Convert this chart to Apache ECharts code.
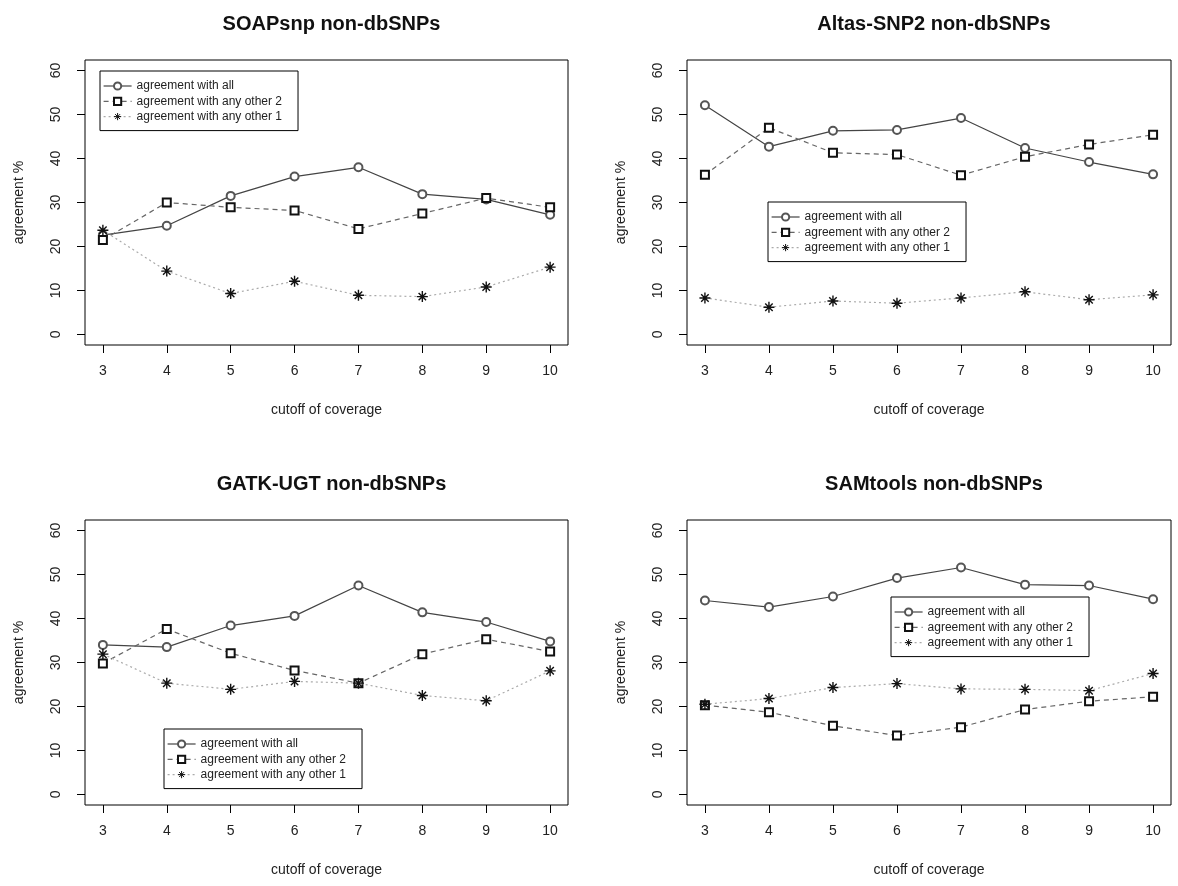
<!DOCTYPE html>
<html><head><meta charset="utf-8">
<script src="https://cdn.jsdelivr.net/npm/echarts@6/dist/echarts.min.js"></script>
<style>html,body{margin:0;padding:0;background:#fff}#c{width:1178px;height:886px}</style>
</head><body><div id="c"></div>
<script>
// ---- data ----
const coverage = [3, 4, 5, 6, 7, 8, 9, 10];
const xTicks = [3, 4, 5, 6, 7, 8, 9, 10];
const yTicks = [0, 10, 20, 30, 40, 50, 60];
const panelTitles = ['SOAPsnp non-dbSNPs', 'Altas-SNP2 non-dbSNPs', 'GATK-UGT non-dbSNPs', 'SAMtools non-dbSNPs'];
const seriesNames = ['agreement with all', 'agreement with any other 2', 'agreement with any other 1'];
const xAxisTitle = 'cutoff of coverage';
const yAxisTitle = 'agreement %';

const soapAll    = [22.6, 24.7, 31.5, 35.9, 38.0, 31.9, 30.7, 27.2];
const soapOther2 = [21.5, 30.0, 28.9, 28.2, 24.0, 27.5, 31.0, 28.9];
const soapOther1 = [23.7, 14.4, 9.3, 12.1, 8.9, 8.6, 10.8, 15.3];

const altasAll    = [52.1, 42.7, 46.3, 46.5, 49.2, 42.4, 39.2, 36.4];
const altasOther2 = [36.3, 47.0, 41.3, 40.9, 36.2, 40.4, 43.2, 45.4];
const altasOther1 = [8.3, 6.2, 7.6, 7.1, 8.3, 9.7, 7.9, 9.0];

const gatkAll    = [34.0, 33.5, 38.4, 40.6, 47.5, 41.4, 39.2, 34.8];
const gatkOther2 = [29.8, 37.6, 32.1, 28.2, 25.3, 31.9, 35.3, 32.5];
const gatkOther1 = [31.9, 25.3, 23.9, 25.7, 25.3, 22.5, 21.3, 28.1];

const samAll    = [44.1, 42.6, 45.0, 49.2, 51.6, 47.7, 47.5, 44.4];
const samOther2 = [20.3, 18.7, 15.6, 13.4, 15.3, 19.3, 21.2, 22.2];
const samOther1 = [20.5, 21.8, 24.3, 25.2, 24.0, 23.9, 23.6, 27.5];

const panelValues = [
  [soapAll, soapOther2, soapOther1],
  [altasAll, altasOther2, altasOther1],
  [gatkAll, gatkOther2, gatkOther1],
  [samAll, samOther2, samOther1]
];

// ---- layout ----
const grids = [
  {left: 85, top: 60, width: 483, height: 285},
  {left: 687, top: 60, width: 484, height: 285},
  {left: 85, top: 520, width: 483, height: 285},
  {left: 687, top: 520, width: 484, height: 285}
];
const legendPos = [
  {left: 100, top: 71},
  {left: 768, top: 202},
  {left: 164, top: 729},
  {left: 891, top: 597}
];
const FONT = '"Liberation Sans", Arial, Helvetica, sans-serif';
const ASTER = 'path://M5 0L5 10M0 5L10 5M1.6 1.6L8.4 8.4M8.4 1.6L1.6 8.4';

const styles = [
  {symbol: 'emptyCircle', symbolSize: 8, itemStyle: {color: '#555', borderWidth: 1.2},
   lineStyle: {color: '#444', width: 1.2, type: 'solid'}},
  {symbol: 'emptyRect', symbolSize: 8, itemStyle: {color: '#111', borderWidth: 1.3},
   lineStyle: {color: '#666', width: 1.2, type: [5, 4]}},
  {symbol: ASTER, symbolSize: 11, symbolKeepAspect: true,
   itemStyle: {color: '#111', borderColor: '#111', borderWidth: 1.4},
   lineStyle: {color: '#aaa', width: 1.2, type: [2, 3]}}
];

const option = {
  animation: false,
  backgroundColor: '#fff',
  title: [], grid: [], xAxis: [], yAxis: [], legend: [], series: []
};

grids.forEach((g, i) => {
  option.grid.push(Object.assign({show: true, borderColor: '#000', borderWidth: 1, containLabel: false}, g));
  option.title.push({
    text: panelTitles[i], left: g.left + g.width / 2, top: g.top - 51, textAlign: 'center',
    textStyle: {fontFamily: FONT, fontSize: 20, fontWeight: 'bold', color: '#111'}
  });
  option.xAxis.push({
    type: 'value', gridIndex: i, min: 2.72, max: 10.28, position: 'bottom',
    name: xAxisTitle, nameLocation: 'middle', nameGap: 58,
    nameTextStyle: {fontFamily: FONT, fontSize: 14, color: '#222'},
    axisLine: {show: false, onZero: false}, splitLine: {show: false},
    axisTick: {show: true, inside: false, length: 8, customValues: xTicks, lineStyle: {color: '#000'}},
    axisLabel: {customValues: xTicks, margin: 19, fontFamily: FONT, fontSize: 14, color: '#222'}
  });
  option.yAxis.push({
    type: 'value', gridIndex: i, min: -2.4, max: 62.4, position: 'left',
    name: yAxisTitle, nameLocation: 'middle', nameGap: 59,
    nameTextStyle: {fontFamily: FONT, fontSize: 14, color: '#222'},
    axisLine: {show: false, onZero: false}, splitLine: {show: false},
    axisTick: {show: true, inside: false, length: 8, customValues: yTicks, lineStyle: {color: '#000'}},
    axisLabel: {customValues: yTicks, rotate: 90, margin: 22, fontFamily: FONT, fontSize: 14, color: '#222'}
  });
  option.legend.push({
    left: legendPos[i].left, top: legendPos[i].top, orient: 'vertical',
    data: seriesNames, selectedMode: false,
    borderColor: '#000', borderWidth: 1, borderRadius: 0,
    padding: [9, 16, 8, 3], itemGap: 3.3, itemWidth: 28, itemHeight: 9,
    itemStyle: {borderWidth: 1},
    lineStyle: {width: 1.2},
    textStyle: {fontFamily: FONT, fontSize: 12, lineHeight: 12, color: '#222'}
  });
  panelValues[i].forEach((vals, k) => {
    option.series.push(Object.assign({
      type: 'line', name: seriesNames[k], xAxisIndex: i, yAxisIndex: i,
      data: coverage.map((c, j) => [c, vals[j]]), z: 2 + k
    }, JSON.parse(JSON.stringify(styles[k]))));
  });
});

const chart = echarts.init(document.getElementById('c'), null, {renderer: 'canvas'});
chart.setOption(option);
</script>
</body></html>
